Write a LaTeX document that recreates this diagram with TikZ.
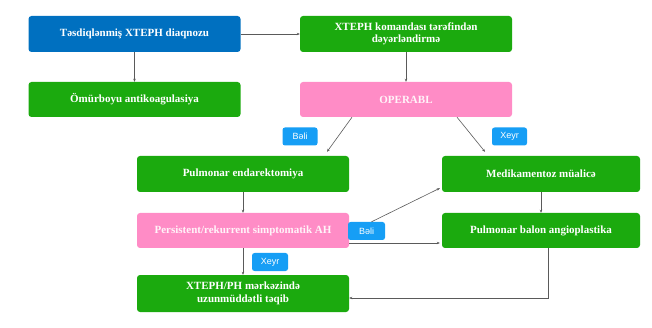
\documentclass[tikz,border=0pt]{standalone}
\usepackage{fontspec}
\setmainfont{Liberation Serif}
\setsansfont{Liberation Sans}
\usetikzlibrary{arrows.meta}
\usetikzlibrary{positioning}
\definecolor{diagblue}{RGB}{0,112,192}
\definecolor{boxgreen}{RGB}{27,170,14}
\definecolor{boxpink}{RGB}{255,140,198}
\definecolor{tagblue}{RGB}{22,158,245}
\definecolor{linegray}{RGB}{90,90,90}
\tikzset {
  flow path/.style = {
    draw = linegray,
    line width = 0.6pt
  },
  % path style with a small arrow tip at the end
  arr/.style = {
    flow path,
    -{Stealth[length=3pt,width=2.5pt]}
  }
}
\tikzset {
  flow node/.style = {
    rounded corners = 3pt,
    text = white,
    font = \bfseries\fontsize{11}{12.5}\selectfont,
    align = center,
    minimum width = 212pt,
    minimum height = 36pt,
    inner sep = 0
  },
  % first step
  start/.style = {
    flow node,
    fill = diagblue
  },
  % treatment step
  step box/.style = {
    flow node,
    fill = boxgreen
  },
  % decision
  decision/.style = {
    flow node,
    fill = boxpink,
    text = white!90!boxpink
  },
  % answer tag
  answer/.style = {
    fill = tagblue,
    rounded corners = 2.5pt,
    text = white,
    font = \sffamily\fontsize{9}{10}\selectfont,
    minimum width = 35pt,
    minimum height = 18pt,
    inner sep = 0
  }
}

\begin{document}
\begin{tikzpicture}[x=1pt, y=-1pt]
    \useasboundingbox (0,0) rectangle (652,328);

    \node[start] (diag) at (134.5,34) {Təsdiqlənmiş XTEPH diaqnozu};
    \node[step box, minimum height=35pt] (antikoag) at (134.5,99.5) {Ömürboyu antikoagulasiya};
    \node[step box] (komanda) at (406,34) {XTEPH komandası tərəfindən\\dəyərləndirmə};
    \node[decision, minimum height=35pt] (operabl) at (406,99.5) {OPERABL};

    \node[step box] (endarekt) at (243,174) {Pulmonar endarektomiya};
    \node[decision, minimum height=35pt] (persist) at (243,230.5) {Persistent/rekurrent simptomatik AH};
    \node[step box, minimum height=37pt] (taqib) at (243,293.5) {XTEPH/PH mərkəzində\\uzunmüddətli təqib};

    \node[step box, minimum width=198pt] (medik) at (541,174) {Medikamentoz müalicə};
    \node[step box, minimum width=198pt, minimum height=35pt] (balon) at (541,230.5) {Pulmonar balon angioplastika};

    \node[answer] (beli1) at (300,136.5) {Bəli};
    \node[answer] (xeyr1) at (509.5,136.5) {Xeyr};
    \node[answer, minimum width=37pt] (beli2) at (366.5,231) {Bəli};
    \node[answer, minimum width=36pt] (xeyr2) at (270,262) {Xeyr};

    \draw[arr] (diag) -- (komanda);
    \draw[arr] (diag) -- (antikoag);
    \draw[arr] (komanda) -- (operabl);

    \draw[arr] ([xshift=-54pt]operabl.south)
      -- ([xshift=84pt,yshift=4pt]endarekt.north);
    \draw[arr] ([xshift=51pt]operabl.south)
      -- ([xshift=-56pt,yshift=4pt]medik.north);

    \draw[arr] (endarekt) -- (persist);
    \draw[arr] ([xshift=5pt]beli2.north)
      -- ([xshift=-2pt,yshift=4pt]medik.south west);
    \draw[arr] ([yshift=-12.5pt]persist.east)
      -- ([xshift=-2pt,yshift=-12.5pt]balon.west);
    \draw[arr] (medik) -- (balon);

    \draw[arr] ([xshift=7pt]balon.south)
      |- ([yshift=-4.5pt]taqib.east);
    \draw[arr] (persist) -- (taqib);
  \end{tikzpicture}
\end{document}
